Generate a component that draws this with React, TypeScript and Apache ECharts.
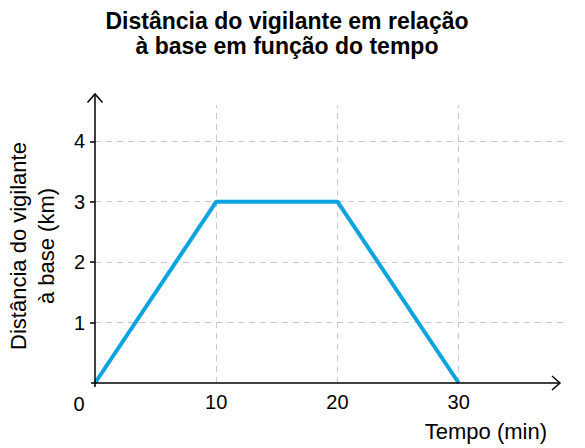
import { useEffect, useRef } from "react";
import * as echarts from "echarts";

// dados
const tempo = [0, 10, 20, 30];
const distancia = [0, 3, 3, 0];
const xTicks = [10, 20, 30];
const yTicks = [1, 2, 3, 4];
const xMax = 38.6;
const yMax = 4.6;

const titulo = ["Distância do vigilante em relação", "à base em função do tempo"];
const nomeY = "Distância do vigilante\nà base (km)";
const nomeX = "Tempo (min)";

const FONT = "'Liberation Sans', Arial, sans-serif";

const App = () => {
  const chartRef = useRef<HTMLDivElement>(null);

  useEffect(() => {
    const chart = echarts.init(chartRef.current, null, { renderer: "svg" });
    const options: any = {
      animation: false,
      grid: { left: 95, right: 22, top: 105, bottom: 65 },
      xAxis: {
        type: "value",
        min: 0,
        max: xMax,
        axisLine: { show: false },
        axisTick: { show: false },
        splitLine: { show: false },
        axisLabel: {
          customValues: xTicks,
          margin: 9,
          fontSize: 20,
          color: "#000",
          fontFamily: FONT,
        },
      },
      yAxis: {
        type: "value",
        min: 0,
        max: yMax,
        axisLine: { show: false },
        axisTick: {
          show: true,
          customValues: yTicks,
          length: 5,
          lineStyle: { color: "#000", width: 1.5 },
        },
        splitLine: { show: false },
        axisLabel: {
          customValues: yTicks,
          margin: 10,
          fontSize: 20,
          color: "#000",
          fontFamily: FONT,
        },
      },
      series: [
        {
          // linhas de grade tracejadas
          type: "line",
          data: [],
          z: 1,
          silent: true,
          markLine: {
            silent: true,
            symbol: ["none", "none"],
            label: { show: false },
            lineStyle: { type: [6, 5], color: "#c8c8c8", width: 1 },
            data: [
              ...xTicks.map((v) => ({ xAxis: v })),
              ...yTicks.map((v) => ({ yAxis: v })),
            ],
          },
        },
        {
          type: "line",
          z: 5,
          data: tempo.map((t, i) => [t, distancia[i]]),
          symbol: "none",
          lineStyle: { color: "#0ba3e0", width: 4 },
        },
      ],
    };
    chart.setOption(options);

    const [ox, oy] = chart.convertToPixel({ gridIndex: 0 }, [0, 0]);
    const axisStyle = { stroke: "#000", lineWidth: 1.5, fill: null };
    const xEnd = 560;
    const yEnd = 94;
    chart.setOption({
      graphic: [
        { type: "line", shape: { x1: ox - 4, y1: oy, x2: xEnd, y2: oy }, style: axisStyle, z: 10 },
        { type: "polyline", shape: { points: [[xEnd - 8, oy - 7], [xEnd, oy], [xEnd - 8, oy + 7]] }, style: axisStyle, z: 10 },
        { type: "line", shape: { x1: ox, y1: oy + 4, x2: ox, y2: yEnd }, style: axisStyle, z: 10 },
        { type: "polyline", shape: { points: [[ox - 7.5, yEnd + 8.5], [ox, yEnd], [ox + 7.5, yEnd + 8.5]] }, style: axisStyle, z: 10 },
        {
          type: "text", x: ox - 16, y: oy + 21,
          style: { text: "0", font: `20px ${FONT}`, fill: "#000", textAlign: "center", textVerticalAlign: "middle" },
        },
        {
          type: "text", x: 547, y: 431,
          style: { text: nomeX, font: `22px ${FONT}`, fill: "#000", textAlign: "right", textVerticalAlign: "middle" },
        },
        {
          type: "text", x: 32, y: 246, rotation: Math.PI / 2,
          style: { text: nomeY, font: `22px ${FONT}`, lineHeight: 28, fill: "#000", textAlign: "center", textVerticalAlign: "middle" },
        },
        {
          type: "text", x: 287, y: 21,
          style: { text: titulo[0], font: `bold 23px ${FONT}`, fill: "#000", textAlign: "center", textVerticalAlign: "middle" },
        },
        {
          type: "text", x: 287, y: 46,
          style: { text: titulo[1], font: `bold 23px ${FONT}`, fill: "#000", textAlign: "center", textVerticalAlign: "middle" },
        },
      ],
    });

    return () => {
      chart.dispose();
    };
  }, []);

  return (
    <div
      ref={chartRef}
      style={{ position: "fixed", left: 0, top: 0, width: 585, height: 448, background: "#fff" }}
    />
  );
};

export default App;
